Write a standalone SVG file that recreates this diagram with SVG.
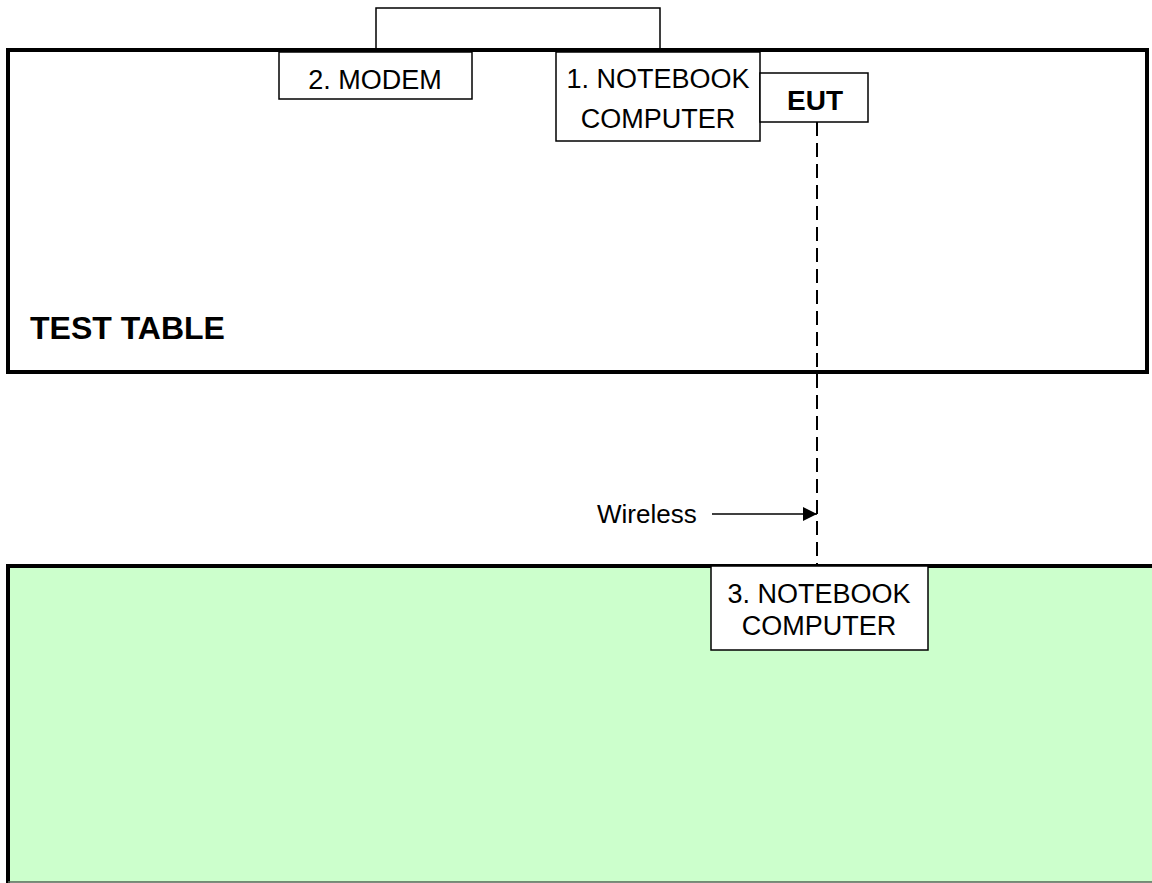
<svg xmlns="http://www.w3.org/2000/svg" width="1152" height="883" viewBox="0 0 1152 883">
<style>
.box{fill:#fff;stroke:#000;stroke-width:1.5}
.t{font-family:"Liberation Sans",Arial,sans-serif;font-size:27px;fill:#000;text-anchor:middle}
.b{font-weight:bold}
</style>
<defs>
<marker id="ah" viewBox="0 0 10 10" refX="10" refY="5" markerWidth="14" markerHeight="14" markerUnits="userSpaceOnUse" orient="auto">
<path d="M0,0 L10,5 L0,10 z" fill="#000"/>
</marker>
</defs>
<rect width="1152" height="883" fill="#fff"/>
<g id="table2">
<rect x="8" y="566" width="1150" height="316" fill="#CCFFCC" stroke="none"/>
<line x1="6" y1="566" x2="1152" y2="566" stroke="#000" stroke-width="4"/>
<line x1="8" y1="564" x2="8" y2="883" stroke="#000" stroke-width="4"/>
<line x1="8" y1="882" x2="1152" y2="882" stroke="#556655" stroke-width="1.5"/>
</g>
<g id="test-table">
<rect x="8" y="50" width="1139" height="322" fill="#fff" stroke="#000" stroke-width="4"/>
<text x="30" y="339" class="t b" style="text-anchor:start;font-size:32px">TEST TABLE</text>
</g>
<g id="connectors">
<polyline points="376,50 376,8 660,8 660,50" fill="none" stroke="#000" stroke-width="1.5"/>
<line x1="817" y1="122" x2="817" y2="566" stroke="#000" stroke-width="2" stroke-dasharray="14,7"/>
<line x1="712" y1="514" x2="817" y2="514" stroke="#000" stroke-width="1.5" marker-end="url(#ah)"/>
<text x="597" y="523" class="t" style="text-anchor:start;font-size:26px">Wireless</text>
</g>
<g id="modem">
<rect x="279" y="52" width="193" height="47" class="box"/>
<text x="375" y="89" class="t">2. MODEM</text>
</g>
<g id="notebook1">
<rect x="556" y="52" width="204" height="89" class="box"/>
<text x="658" y="88" class="t">1. NOTEBOOK</text>
<text x="658" y="128" class="t">COMPUTER</text>
</g>
<g id="eut">
<rect x="760" y="73" width="108" height="49" class="box"/>
<text x="815" y="110" class="t b" style="font-size:28px">EUT</text>
</g>
<g id="notebook3">
<rect x="711" y="566" width="217" height="84" class="box"/>
<text x="819" y="603" class="t">3. NOTEBOOK</text>
<text x="819" y="635" class="t">COMPUTER</text>
</g>
</svg>
